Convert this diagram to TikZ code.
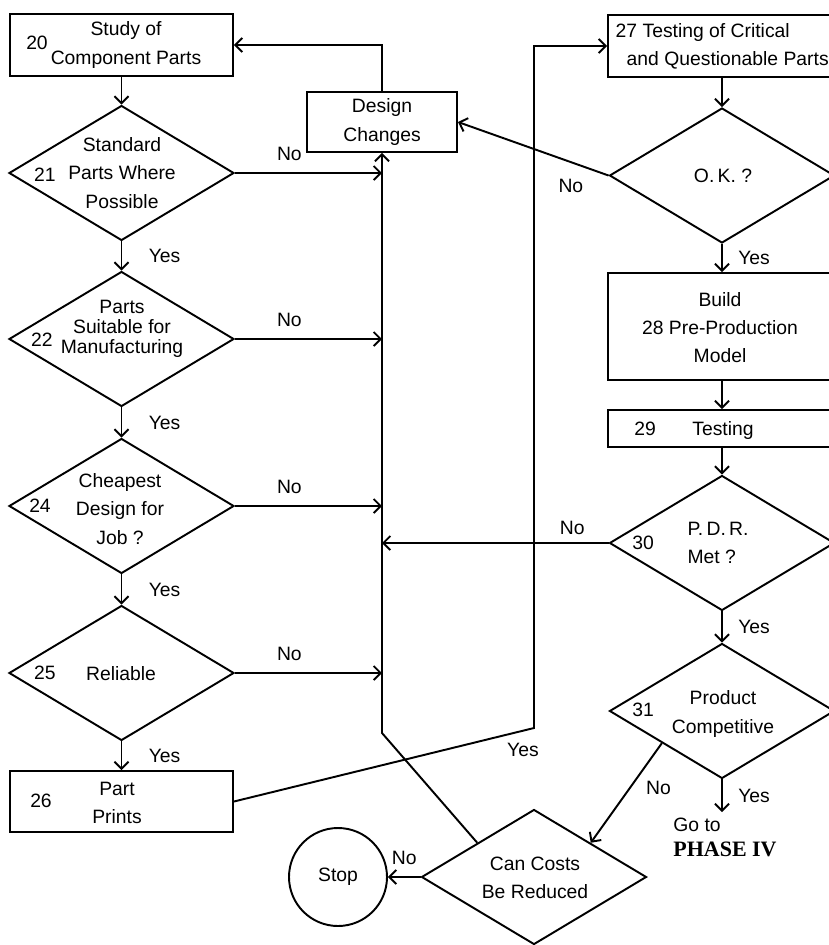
\documentclass[tikz,border=0pt]{standalone}
\usepackage{fontspec}
\setmainfont{Liberation Sans}
\newfontfamily\phasefont{Liberation Serif}
\usetikzlibrary{shapes.geometric,arrows.meta,calc}

\begin{document}
\begin{tikzpicture}[
		font=\fontsize{11}{16}\selectfont,
		line width=1.1pt,
		flow/.style={-{Straight Barb[length=4pt,width=8pt]}},
		block/.style={draw, rectangle, align=center, inner sep=0pt},
		decision/.style={draw, diamond, minimum width=4.5cm, minimum height=2.7cm, inner sep=0pt},
		txt/.style={align=center, inner sep=1pt},
		yeslbl/.style={midway, right=0.41cm},
		yesrgt/.style={midway, right=0.19cm},
		nolbl/.style={pos=0.37, above=3pt}
	]
	\useasboundingbox (0,0) rectangle (16.58,-18.9);
	\clip (0,0) rectangle (16.58,-18.9);
	\def\lx{2.43}
	\def\rx{14.44}

	\node[block, minimum width=4.46cm, minimum height=1.24cm] (b20) at (\lx,-0.90) {};
	\node[txt] (t20) at (2.52,-0.90) {Study of\\Component Parts};
	\node[txt] (n20) at (0.74,-0.86) {20};

	\node[decision] (d21) at (\lx,-3.46) {};
	\node[txt] (t21) at (2.44,-3.46) {Standard\\Parts Where\\Possible};
	\node[txt] (n21) at (0.90,-3.50) {21};

	\node[decision] (d22) at (\lx,-6.78) {};
	\node[txt] (t22) at (2.44,-6.58) {Parts\\[-4.5pt]Suitable for\\[-4.5pt]Manufacturing};
	\node[txt] (n22) at (0.84,-6.80) {22};

	\node[decision] (d24) at (\lx,-10.12) {};
	\node[txt] (t24) at (2.40,-10.18) {Cheapest\\Design for\\Job ?};
	\node[txt] (n24) at (0.80,-10.12) {24};

	\node[decision] (d25) at (\lx,-13.46) {};
	\node[txt] (t25) at (2.42,-13.48) {Reliable};
	\node[txt] (n25) at (0.90,-13.46) {25};

	\node[block, minimum width=4.46cm, minimum height=1.22cm] (b26) at (\lx,-16.03) {};
	\node[txt] (t26) at (2.34,-16.06) {Part\\Prints};
	\node[txt] (n26) at (0.82,-16.02) {26};

	\node[block, minimum width=3.0cm, minimum height=1.2cm] (dc) at (7.64,-2.44) {Design\\Changes};

	\node[block, minimum width=4.56cm, minimum height=1.24cm] (b27) at (\rx,-0.92) {};
	\node[txt, align=left, anchor=west] (t27) at (12.26,-0.92) {27 Testing of Critical\\\hspace*{0.22cm}and Questionable Parts};

	\node[decision] (dok) at (\rx,-3.51) {};
	\node[txt] (tok) at (14.46,-3.51) {O.\,K. ?};

	\node[block, minimum width=4.56cm, minimum height=2.14cm] (b28) at (\rx,-6.53) {};
	\node[txt] (t28) at (14.40,-6.55) {Build\\28 Pre-Production\\Model};

	\node[block, minimum width=4.56cm, minimum height=0.74cm] (b29) at (\rx,-8.57) {};
	\node[txt] (t29) at (14.46,-8.60) {Testing};
	\node[txt] (n29) at (12.90,-8.58) {29};

	\node[decision] (d30) at (\rx,-10.86) {};
	\node[txt, align=left] (t30) at (14.36,-10.85) {P.\,D.\,R.\\Met ?};
	\node[txt] (n30) at (12.86,-10.86) {30};

	\node[decision] (d31) at (\rx,-14.22) {};
	\node[txt] (t31) at (14.46,-14.28) {Product\\Competitive};
	\node[txt] (n31) at (12.86,-14.20) {31};

	\node[txt, align=left, anchor=north, inner sep=3pt] (goto) at (14.50,-16.24) {Go to\\[-2pt]{\phasefont\bfseries\fontsize{12.5}{15}\selectfont PHASE IV}};

	\node[decision] (dcost) at (10.68,-17.54) {};
	\node[txt] (tcost) at (10.70,-17.56) {Can Costs\\Be Reduced};

	\node[draw, circle, minimum size=1.96cm, inner sep=0pt] (stop) at (6.76,-17.54) {Stop};

	\coordinate (jn) at (7.64,-14.66);
	\coordinate (kk) at (10.68,-14.56);

	\draw[flow] (b20) -- (d21);
	\draw[flow] (d21) -- (d22) node[yeslbl]{Yes};
	\draw[flow] (d22) -- (d24) node[yeslbl]{Yes};
	\draw[flow] (d24) -- (d25) node[yeslbl]{Yes};
	\draw[flow] (d25) -- (b26) node[yeslbl]{Yes};

	\draw[flow] (d21.east) -- (d21.east -| jn) node[nolbl]{No};
	\draw[flow] (d22.east) -- (d22.east -| jn) node[nolbl]{No};
	\draw[flow] (d24.east) -- (d24.east -| jn) node[nolbl]{No};
	\draw[flow] (d25.east) -- (d25.east -| jn) node[nolbl]{No};

	\draw[flow] ($(dcost.west)!0.5!(dcost.north)$) -- (jn) -- (dc.south);
	\draw[flow] (dc.north) |- (b20.east);

	\draw[flow] (b26.east) -- (kk) node[below=0.16cm, xshift=-0.22cm]{Yes} -- (kk |- b27.west) -- (b27.west);

	\draw[flow] (b27) -- (dok);
	\draw[flow] (dok.west) -- (dc.east) node[pos=0.25, below=6pt]{No};
	\draw[flow] (dok) -- (b28) node[yesrgt]{Yes};
	\draw[flow] (b28) -- (b29);
	\draw[flow] (b29) -- (d30);
	\draw[flow] (d30.west) -- (d30.west -| jn) node[pos=0.16, above=1pt]{No};
	\draw[flow] (d30) -- (d31) node[yesrgt]{Yes};
	\draw[flow] ($(d31.west)!0.47!(d31.south)$) -- ($(dcost.north)!0.5!(dcost.east)$) node[pos=0.45, right=0.19cm]{No};
	\draw[flow] (d31.south) -- (d31.south |- goto.north) node[yesrgt]{Yes};
	\draw[flow] (dcost.west) -- (stop) node[midway, above=3pt]{No};
\end{tikzpicture}
\end{document}
